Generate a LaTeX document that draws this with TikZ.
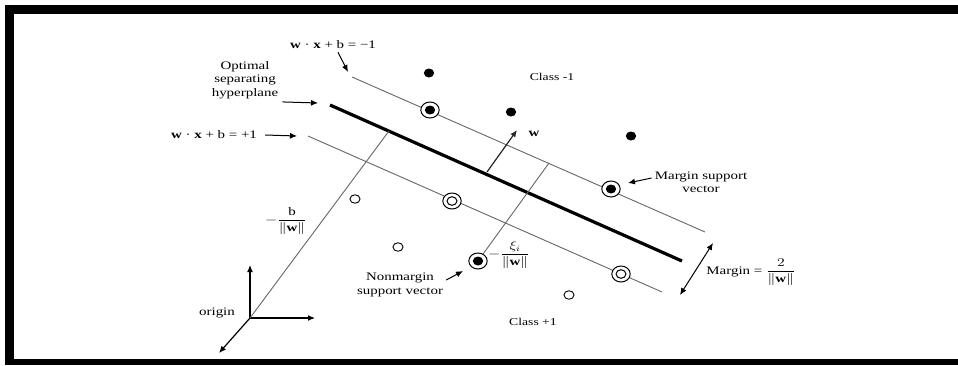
\documentclass[tikz,border=0pt]{standalone}
\usepackage{amsmath}
\usepackage{fontspec}
\setmainfont{Liberation Serif}
\usetikzlibrary{arrows.meta}
\begin{document}
\begin{tikzpicture}[x=1pt,y=-1pt,
  lbl/.style={font=\fontsize{11.5}{13.5}\selectfont, xscale=1.3, align=center, inner sep=0pt},
  gline/.style={draw=black!60, line width=0.9pt},
  tip/.tip={Latex[length=7pt,width=6pt]},
  arr/.style={-tip, line width=1pt},
  fdot/.style={circle, fill=black, inner sep=0pt, minimum size=9pt, xscale=1.15},
  odot/.style={circle, draw=black, line width=0.9pt, inner sep=0pt, minimum size=8.5pt, xscale=1.2},
  svf/.style={circle, draw=black, line width=1pt, fill=white, inner sep=0pt, minimum size=16pt, xscale=1.15,
    path picture={\fill[black] (path picture bounding box.center) circle (4.5pt);}},
  svo/.style={circle, draw=black, line width=1pt, fill=white, inner sep=0pt, minimum size=16pt, xscale=1.15,
    path picture={\draw[black, line width=1pt] (path picture bounding box.center) circle (4.3pt);}}]
\useasboundingbox (0,0) rectangle (958,365);
% frame
\fill[black] (5,5) rectangle (958,14);
\fill[black] (5,5) rectangle (14,363);
\fill[black] (5,359) rectangle (958,365);
% separating lines
\coordinate (um1) at (352,77);  \coordinate (um2) at (705,232);
\coordinate (hp1) at (330,105); \coordinate (hp2) at (682,261);
\coordinate (lm1) at (308,136); \coordinate (lm2) at (662,292);
\draw[gline] (um1) -- (um2);
\draw[gline] (lm1) -- (lm2);
\draw[black, line width=3.2pt] (hp1) -- (hp2);
% origin and axes
\coordinate (o) at (250,318);
\coordinate (ay) at (250,265);
\coordinate (ax) at (315,318);
\coordinate (az) at (219,353);
\draw[arr, line width=1.2pt] (o) -- (ay);
\draw[arr, line width=1.2pt] (o) -- (ax);
\draw[arr, line width=1.2pt] (o) -- (az);
\coordinate (bh) at (389,131);
\draw[gline] (o) -- (bh);
% w vector
\coordinate (w0) at (487,172);
\coordinate (w1) at (517,130);
\draw[arr, draw=black!85, fill=black!85, line width=1.2pt] (w0) -- (w1);
\node[lbl, font=\fontsize{11.5}{13}\selectfont\bfseries] (wl) at (534,134) {w};
% points class -1
\node[fdot] (a1) at (429,73) {};
\node[fdot] (a2) at (511,112) {};
\node[fdot] (a3) at (631,136) {};
% points class +1
\node[odot] (b1) at (355,199) {};
\node[odot] (b2) at (398,247) {};
\node[odot] (b3) at (569,295) {};
% nonmargin support vector and its distance line
\coordinate (xiu) at (549,163);
\node[svf] (nsvp) at (478,261) {};
\draw[gline] (nsvp) -- (xiu);
% support vectors
\node[svf] (s1) at (430,110) {};
\node[svf] (s2) at (611,189) {};
\node[svo] (s3) at (452,201) {};
\node[svo] (s4) at (621,274) {};
% labels
\node[lbl] (eqm) at (333,45) {\textbf{w} · \textbf{x} + b = −1};
\coordinate (eqmt) at (348,72);
\draw[arr] ([xshift=5pt,yshift=-3pt]eqm.south) -- (eqmt);
\node[lbl] (opt) at (245,80) {Optimal\\separating\\hyperplane};
\coordinate (optt) at (318,103);
\draw[arr] ([xshift=4pt,yshift=-3pt]opt.south east) -- (optt);
\node[lbl] (eqp) at (214,135) {\textbf{w} · \textbf{x} + b = +1};
\coordinate (eqpt) at (297,136);
\draw[arr] ([xshift=8pt]eqp.east) -- (eqpt);
\node[lbl, font=\fontsize{10.5}{12}\selectfont] (c1) at (552,77) {Class -1};
\node[lbl, font=\fontsize{10.5}{12}\selectfont] (c2) at (533,322) {Class +1};
\node[lbl] (msv) at (701,182) {Margin support\\vector};
\coordinate (msvt) at (628,183);
\draw[arr] ([xshift=-3pt,yshift=4pt]msv.west) -- (msvt);
\node[lbl] (nsv) at (400,285) {Nonmargin\\support vector};
\coordinate (nsvt) at (463,271);
\draw[arr] ([xshift=3pt,yshift=5pt]nsv.east) -- (nsvt);
\node[lbl] (org) at (217,313) {origin};
\node[lbl] (bfr) at (286,221) {$-\dfrac{\mathrm{b}}{\|\mathbf{w}\|}$};
\node[lbl] (xfr) at (509,255) {$-\dfrac{\xi_i}{\|\mathbf{w}\|}$};
\node[lbl] (mrg) at (751,272) {Margin = $\dfrac{2}{\|\mathbf{w}\|}$};
\coordinate (mg1) at (680,295);
\coordinate (mg2) at (713,243);
\draw[tip-tip, line width=1pt] (mg1) -- (mg2);
\end{tikzpicture}
\end{document}
